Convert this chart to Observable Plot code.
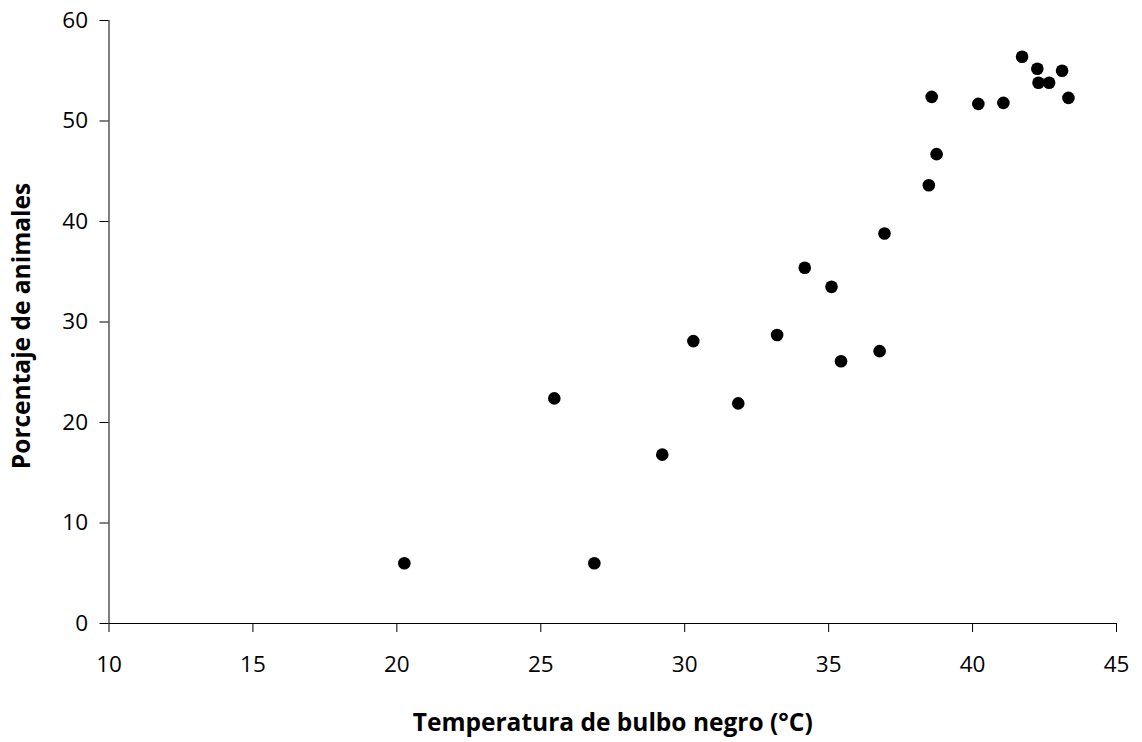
<!DOCTYPE html>
<html>
<head>
<meta charset="utf-8">
<script src="https://cdn.jsdelivr.net/npm/d3@7"></script>
<script src="https://cdn.jsdelivr.net/npm/@observablehq/plot@0.6"></script>
<style>
  html, body { margin: 0; padding: 0; background: #fff; }
  #chart svg { display: block; }
</style>
</head>
<body>
<div id="chart"></div>
<script>
// Temperatura de bulbo negro (°C) y porcentaje de animales observados
const temperatura = [20.26, 25.47, 26.86, 29.22, 30.30, 31.86, 33.21, 34.17, 35.10, 35.43, 36.77, 36.94,
                     38.48, 38.75, 38.58, 40.20, 41.07, 41.72, 42.25, 42.29, 42.66, 43.11, 43.33];
const porcentaje  = [6.0, 22.4, 6.0, 16.8, 28.1, 21.9, 28.7, 35.4, 33.5, 26.1, 27.1, 38.8,
                     43.6, 46.7, 52.4, 51.7, 51.8, 56.4, 55.2, 53.8, 53.8, 55.0, 52.3];

const xTicks = [10, 15, 20, 25, 30, 35, 40, 45];
const yTicks = [0, 10, 20, 30, 40, 50, 60];

const xTitle = "Temperatura de bulbo negro (°C)";
const yTitle = "Porcentaje de animales";

const puntos = temperatura.map((t, i) => ({t, p: porcentaje[i]}));

const font = "'Open Sans', 'Noto Sans', sans-serif";

const chart = Plot.plot({
  width: 1142,
  height: 742,
  marginLeft: 108.5,
  marginRight: 26,
  marginTop: 20,
  marginBottom: 119,
  style: {fontFamily: font, color: "#000", background: "#fff"},
  x: {domain: [10, 45]},
  y: {domain: [0, 60]},
  marks: [
    Plot.axisX({ticks: xTicks, tickSize: 9, tickPadding: 24, fontSize: 22.5, label: null, stroke: "#000"}),
    Plot.axisY({ticks: yTicks, tickSize: 9, tickPadding: 12, fontSize: 22.5, label: null, stroke: "#000"}),
    Plot.ruleY([0], {stroke: "#000", strokeWidth: 1}),
    Plot.ruleX([10], {stroke: "#000", strokeWidth: 1}),
    Plot.dot(puntos, {x: "t", y: "p", r: 6.3, fill: "#000", stroke: "none"}),
    Plot.text([xTitle], {
      frameAnchor: "bottom", textAnchor: "middle", lineAnchor: "top", dy: 90,
      text: d => d, fontSize: 24.5, fontWeight: "bold", fill: "#000"
    }),
    Plot.text([yTitle], {
      frameAnchor: "left", textAnchor: "middle", lineAnchor: "top", rotate: -90, dx: -96, dy: 4,
      text: d => d, fontSize: 24.5, fontWeight: "bold", fill: "#000"
    })
  ]
});

document.getElementById("chart").appendChild(chart);
</script>
</body>
</html>
